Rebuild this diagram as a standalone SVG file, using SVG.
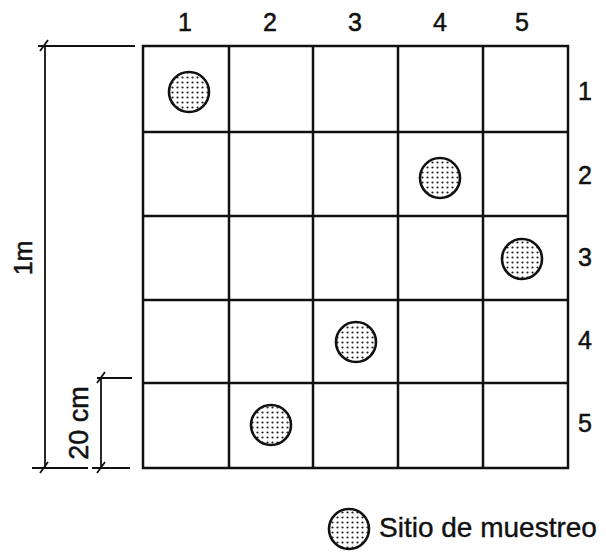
<svg xmlns="http://www.w3.org/2000/svg" width="606" height="553" viewBox="0 0 606 553">
<style>
.g{stroke:#111;stroke-width:2.5;fill:none}
.d{stroke:#111;stroke-width:1.8;fill:none}
.t{font-family:"Liberation Sans",Arial,sans-serif;font-size:25px;fill:#111;stroke:#111;stroke-width:0.5;text-anchor:middle}
.s{fill:url(#dots);stroke:#111;stroke-width:2.6}
</style>
<defs>
<pattern id="dots" width="5" height="5" patternUnits="userSpaceOnUse">
<rect width="5" height="5" fill="#fff"/>
<circle cx="2.5" cy="2.5" r="1.1" fill="#222"/>
</pattern>
</defs>
<g id="grid">
<rect class="g" x="143" y="46" width="425" height="422"/>
<path class="g" d="M229 46V468M313 46V468M398 46V468M483 46V468M143 132H568M143 216H568M143 300H568M143 383H568"/>
</g>
<g id="labels">
<text class="t" x="185" y="31">1</text>
<text class="t" x="270" y="31">2</text>
<text class="t" x="355" y="31">3</text>
<text class="t" x="440" y="31">4</text>
<text class="t" x="522" y="31">5</text>
<text class="t" x="585" y="100">1</text>
<text class="t" x="585" y="184">2</text>
<text class="t" x="585" y="266">3</text>
<text class="t" x="585" y="349">4</text>
<text class="t" x="585" y="432">5</text>
</g>
<g id="samples">
<circle class="s" cx="189" cy="92" r="20"/>
<circle class="s" cx="440" cy="178" r="20"/>
<circle class="s" cx="522" cy="259" r="20"/>
<circle class="s" cx="356" cy="342" r="20"/>
<circle class="s" cx="271" cy="425" r="20"/>
</g>
<g id="dimensions">
<path class="d" d="M38 46H135M45 46V468M32 468H88M40 51L48 40M40 473L48 462"/>
<path class="d" d="M97 378H132M101 378V468M92 468H130M97 383L105 372M97 473L105 462"/>
<text class="t" transform="translate(32 258) rotate(-90)">1m</text>
<text class="t" style="font-size:27px" transform="translate(88 423) rotate(-90)">20 cm</text>
</g>
<g id="legend">
<circle class="s" cx="349" cy="529" r="20"/>
<text x="379" y="537" style="font-family:'Liberation Sans',Arial,sans-serif;font-size:28px;fill:#111;stroke:#111;stroke-width:0.4">Sitio de muestreo</text>
</g>
</svg>
